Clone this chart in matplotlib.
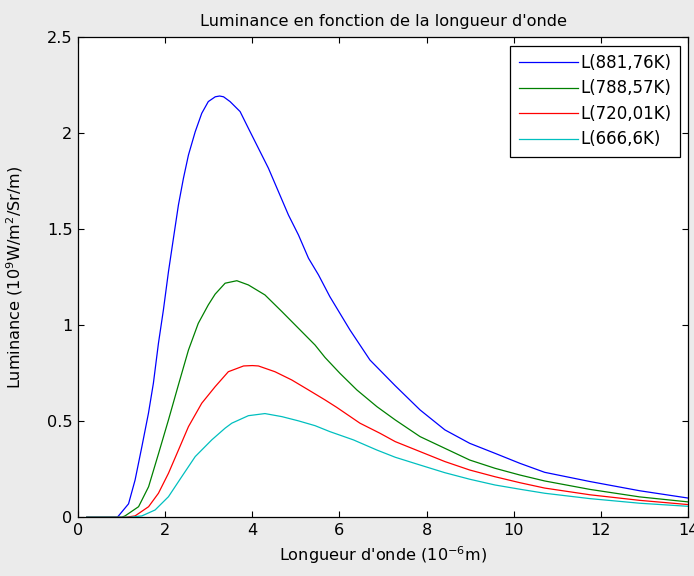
import matplotlib
matplotlib.use("Agg")
import matplotlib.pyplot as plt

# Wavelength (1e-6 m) and luminance (1e9 W/m2/Sr/m)
x_blue = [0.2, 0.9, 0.93, 1.16, 1.31, 1.466, 1.617, 1.73, 1.846, 1.96, 2.076, 2.19, 2.305,
          2.42, 2.535, 2.69, 2.84, 2.99, 3.15, 3.25, 3.34, 3.49, 3.72, 3.91, 4.14, 4.37, 4.60,
          4.83, 5.06, 5.29, 5.52, 5.78, 6.24, 6.70, 7.28, 7.85, 8.42, 8.99, 9.57, 10.14,
          10.71, 11.75, 12.89, 14.0]
y_blue = [0.0, 0.0, 0.007, 0.07, 0.194, 0.368, 0.542, 0.698, 0.906, 1.08, 1.279, 1.453, 1.627,
          1.766, 1.887, 2.008, 2.104, 2.165, 2.19, 2.194, 2.19, 2.165, 2.113, 2.026, 1.922, 1.818,
          1.696, 1.574, 1.47, 1.349, 1.262, 1.149, 0.976, 0.819, 0.685, 0.559, 0.455, 0.385,
          0.333, 0.281, 0.234, 0.186, 0.138, 0.1]

x_green = [0.2, 1.0, 1.08, 1.39, 1.62, 1.85, 2.076, 2.305, 2.535, 2.76, 2.99, 3.147, 3.376,
           3.645, 3.91, 4.29, 4.68, 5.06, 5.44, 5.67, 6.01, 6.40, 6.86, 7.28, 7.85, 8.42, 8.99,
           9.57, 10.14, 10.71, 11.75, 12.89, 14.0]
y_green = [0.0, 0.0, 0.007, 0.055, 0.159, 0.333, 0.507, 0.69, 0.871, 1.01, 1.106, 1.162, 1.219,
           1.232, 1.21, 1.158, 1.071, 0.984, 0.897, 0.832, 0.75, 0.663, 0.576, 0.507, 0.42, 0.359,
           0.298, 0.255, 0.22, 0.189, 0.145, 0.106, 0.08]

x_red = [0.2, 1.1, 1.31, 1.62, 1.846, 2.076, 2.305, 2.535, 2.84, 3.147, 3.45, 3.80, 4.0, 4.14,
         4.52, 4.906, 5.29, 5.67, 5.94, 6.47, 6.93, 7.28, 7.85, 8.42, 8.99, 9.57, 10.14, 10.71,
         11.75, 12.89, 14.0]
y_red = [0.0, 0.0, 0.007, 0.055, 0.125, 0.229, 0.35, 0.472, 0.594, 0.68, 0.758, 0.788, 0.79,
         0.788, 0.758, 0.715, 0.663, 0.611, 0.572, 0.49, 0.4375, 0.394, 0.342, 0.29, 0.246, 0.211,
         0.18, 0.152, 0.117, 0.088, 0.066]

x_cyan = [0.2, 1.2, 1.466, 1.77, 2.076, 2.38, 2.69, 3.07, 3.376, 3.53, 3.91, 4.29, 4.68, 5.06,
          5.44, 5.78, 6.32, 6.86, 7.28, 7.85, 8.42, 8.99, 9.57, 10.14, 10.71, 11.75, 12.89, 14.0]
y_cyan = [0.0, 0.0, 0.007, 0.038, 0.107, 0.211, 0.316, 0.403, 0.464, 0.49, 0.529, 0.54, 0.524,
          0.502, 0.477, 0.446, 0.403, 0.35, 0.3125, 0.272, 0.232, 0.198, 0.168, 0.146, 0.125,
          0.097, 0.073, 0.057]

labels = ["L(881,76K)", "L(788,57K)", "L(720,01K)", "L(666,6K)"]
colors = ["#0000ff", "#008000", "#ff0000", "#00bfbf"]
x_ticks = [0, 2, 4, 6, 8, 10, 12, 14]
y_ticks = [0, 0.5, 1, 1.5, 2, 2.5]

plt.rcParams["font.family"] = ["DejaVu Sans"]
plt.rcParams["mathtext.fontset"] = "dejavusans"
plt.rcParams["mathtext.default"] = "regular"

FS = 11.6

fig = plt.figure(figsize=(6.94, 5.76), dpi=100, facecolor="#ebebeb")
ax = fig.add_axes([0.1124, 0.102, 0.879, 0.8333])
ax.set_facecolor("white")

series = [(x_blue, y_blue), (x_green, y_green), (x_red, y_red), (x_cyan, y_cyan)]
for (xs, ys), lab, col in zip(series, labels, colors):
    ax.plot(xs, ys, color=col, lw=0.9, label=lab)

ax.set_xlim(0, 14)
ax.set_ylim(0, 2.5)
ax.set_xticks(x_ticks)
ax.set_xticklabels([str(v) for v in x_ticks])
ax.set_yticks(y_ticks)
ax.set_yticklabels(["0", "0.5", "1", "1.5", "2", "2.5"])
ax.tick_params(direction="in", top=True, right=True, length=4, width=0.8, labelsize=FS, pad=4)
for s in ax.spines.values():
    s.set_linewidth(0.9)
    s.set_color("black")

ax.set_title("Luminance en fonction de la longueur d'onde", fontsize=FS, pad=8)
ax.set_xlabel("Longueur d'onde (10$^{-6}$m)", fontsize=FS, labelpad=5)
ax.set_ylabel("Luminance (10$^{9}$W/m$^{2}$/Sr/m)", fontsize=FS, labelpad=16)

leg = ax.legend(loc="upper right", fontsize=12, handlelength=3.55, handletextpad=0.15,
                borderpad=0.5, labelspacing=0.45, fancybox=False, framealpha=1,
                edgecolor="black", borderaxespad=0.5)
leg.get_frame().set_linewidth(0.9)

fig.savefig("out.png", dpi=100, facecolor=fig.get_facecolor())
